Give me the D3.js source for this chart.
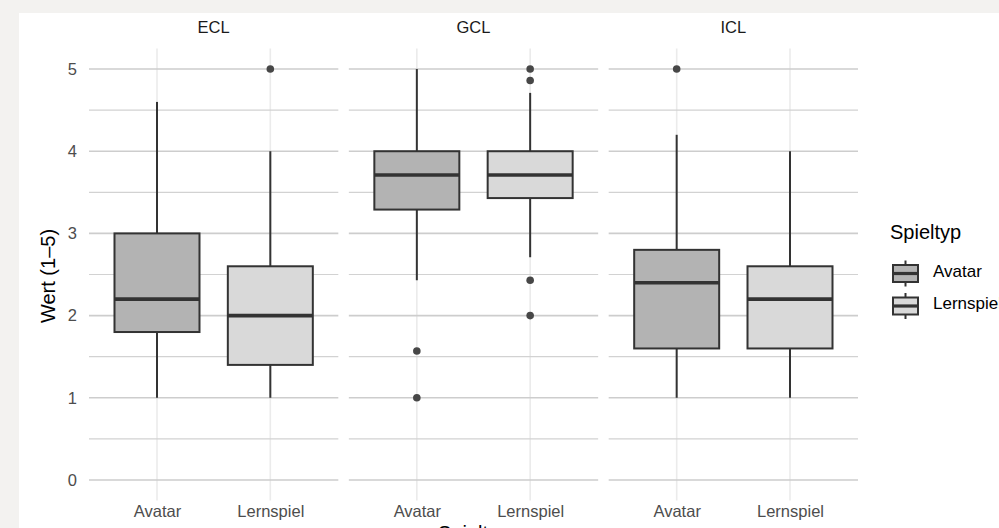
<!DOCTYPE html>
<html>
<head>
<meta charset="utf-8">
<script src="https://cdn.jsdelivr.net/npm/d3@7"></script>
<style>
  html, body { margin: 0; padding: 0; background: #f3f2f0; }
  svg { display: block; font-family: "Liberation Sans", Arial, sans-serif; }
</style>
</head>
<body>
<svg id="chart" width="999" height="528"></svg>
<script>
// data
var facets = ['ECL', 'GCL', 'ICL'];
var groups = ['Avatar', 'Lernspiel'];
var fills = ['#b3b3b3', '#d9d9d9'];

// per facet: [Avatar, Lernspiel]
var whiskerLow  = [[1.0, 1.0], [2.43, 2.71], [1.0, 1.0]];
var q1          = [[1.8, 1.4], [3.29, 3.43], [1.6, 1.6]];
var medians     = [[2.2, 2.0], [3.71, 3.71], [2.4, 2.2]];
var q3          = [[3.0, 2.6], [4.0, 4.0],   [2.8, 2.6]];
var whiskerHigh = [[4.6, 4.0], [5.0, 4.71],  [4.2, 4.0]];
var outliers    = [[[], [5.0]], [[1.57, 1.0], [5.0, 4.86, 2.43, 2.0]], [[5.0], []]];

var yTicks = [0, 1, 2, 3, 4, 5];
var yMinor = [0.5, 1.5, 2.5, 3.5, 4.5];

(function() {
    var svg = d3.select('#chart');

    var top = 48.5, bottom = 500.5,
        INK = '#333333',
        LW = 2;

    // white plot background
    svg.append('rect')
        .attr('x', 19).attr('y', 13)
        .attr('width', 999 - 19).attr('height', 528 - 13)
        .attr('fill', '#ffffff');

    var y = d3.scaleLinear()
        .domain([-0.25, 5.25])
        .range([bottom, top]);

    var fx = d3.scaleBand()
        .domain(facets)
        .range([89, 858])
        .paddingInner(0.0405);

    facets.forEach(function(f, fi) {
        var left = fx(f),
            w = fx.bandwidth();

        var x = d3.scalePoint()
            .domain(groups)
            .range([left, left + w])
            .padding(0.6);

        var boxW = x.step() * 0.75;

        var g = svg.append('g');

        // grid
        g.selectAll('.vgrid')
            .data(groups)
            .enter().append('line')
                .attr('x1', d => x(d)).attr('x2', d => x(d))
                .attr('y1', top).attr('y2', bottom)
                .attr('stroke', '#ebebeb')
                .attr('stroke-width', 1.6);

        g.selectAll('.minor')
            .data(yMinor)
            .enter().append('line')
                .attr('x1', left).attr('x2', left + w)
                .attr('y1', d => y(d)).attr('y2', d => y(d))
                .attr('stroke', '#d2d2d2')
                .attr('stroke-width', 1.2);

        g.selectAll('.major')
            .data(yTicks)
            .enter().append('line')
                .attr('x1', left).attr('x2', left + w)
                .attr('y1', d => y(d)).attr('y2', d => y(d))
                .attr('stroke', '#cdcdcd')
                .attr('stroke-width', 1.6);

        // boxes
        groups.forEach(function(gr, gi) {
            var cx = x(gr);
            var b = g.append('g');

            b.append('line')
                .attr('x1', cx).attr('x2', cx)
                .attr('y1', y(whiskerHigh[fi][gi])).attr('y2', y(q3[fi][gi]))
                .attr('stroke', INK).attr('stroke-width', LW);
            b.append('line')
                .attr('x1', cx).attr('x2', cx)
                .attr('y1', y(q1[fi][gi])).attr('y2', y(whiskerLow[fi][gi]))
                .attr('stroke', INK).attr('stroke-width', LW);

            b.append('rect')
                .attr('x', cx - boxW / 2)
                .attr('y', y(q3[fi][gi]))
                .attr('width', boxW)
                .attr('height', y(q1[fi][gi]) - y(q3[fi][gi]))
                .attr('fill', fills[gi])
                .attr('stroke', INK)
                .attr('stroke-width', LW);

            b.append('line')
                .attr('x1', cx - boxW / 2).attr('x2', cx + boxW / 2)
                .attr('y1', y(medians[fi][gi])).attr('y2', y(medians[fi][gi]))
                .attr('stroke', INK).attr('stroke-width', 3.6);

            b.selectAll('circle')
                .data(outliers[fi][gi])
                .enter().append('circle')
                    .attr('cx', cx)
                    .attr('cy', d => y(d))
                    .attr('r', 3.8)
                    .attr('fill', '#474747');
        });

        // x axis
        var xAxis = g.append('g')
            .attr('transform', 'translate(0,' + bottom + ')')
            .call(d3.axisBottom(x).tickSize(0).tickPadding(5));
        xAxis.select('.domain').remove();
        xAxis.selectAll('text')
            .attr('fill', '#4d4d4d')
            .style('font-size', '16.5px')
            .style('font-family', '"Liberation Sans", Arial, sans-serif');

        // strip label
        g.append('text')
            .attr('x', left + w / 2)
            .attr('y', 33)
            .attr('text-anchor', 'middle')
            .attr('fill', '#1a1a1a')
            .style('font-size', '16.5px')
            .text(f);
    });

    // y axis
    var yAxis = svg.append('g')
        .attr('transform', 'translate(89,0)')
        .call(d3.axisLeft(y).tickValues(yTicks).tickFormat(d3.format('d')).tickSize(0).tickPadding(12));
    yAxis.select('.domain').remove();
    yAxis.selectAll('text')
        .attr('fill', '#4d4d4d')
        .style('font-size', '16.5px')
        .style('font-family', '"Liberation Sans", Arial, sans-serif');

    // axis titles
    svg.append('text')
        .attr('transform', 'translate(55,276) rotate(-90)')
        .attr('text-anchor', 'middle')
        .attr('fill', '#000000')
        .style('font-size', '20px')
        .text('Wert (1–5)');

    svg.append('text')
        .attr('x', (89 + 858) / 2)
        .attr('y', 540)
        .attr('text-anchor', 'middle')
        .attr('fill', '#000000')
        .style('font-size', '20px')
        .text('Spieltyp');

    // legend
    var legend = svg.append('g');
    legend.append('text')
        .attr('x', 890).attr('y', 239)
        .attr('fill', '#000000')
        .style('font-size', '20px')
        .text('Spieltyp');

    var ly = d3.scalePoint()
        .domain(groups)
        .range([273.5, 306]);

    groups.forEach(function(gr, gi) {
        var cy = ly(gr), kx = 893, kw = 25;
        var k = legend.append('g');
        k.append('line')
            .attr('x1', kx + kw / 2).attr('x2', kx + kw / 2)
            .attr('y1', cy - 13).attr('y2', cy + 13)
            .attr('stroke', INK).attr('stroke-width', LW);
        k.append('rect')
            .attr('x', kx).attr('y', cy - 8.5)
            .attr('width', kw).attr('height', 17)
            .attr('fill', fills[gi])
            .attr('stroke', INK).attr('stroke-width', LW);
        k.append('line')
            .attr('x1', kx).attr('x2', kx + kw)
            .attr('y1', cy).attr('y2', cy)
            .attr('stroke', INK).attr('stroke-width', 3.2);
        k.append('text')
            .attr('x', 933).attr('y', cy)
            .attr('dy', '0.2em')
            .attr('fill', '#000000')
            .style('font-size', '17px')
            .text(gr);
    });
}());
</script>
</body>
</html>
